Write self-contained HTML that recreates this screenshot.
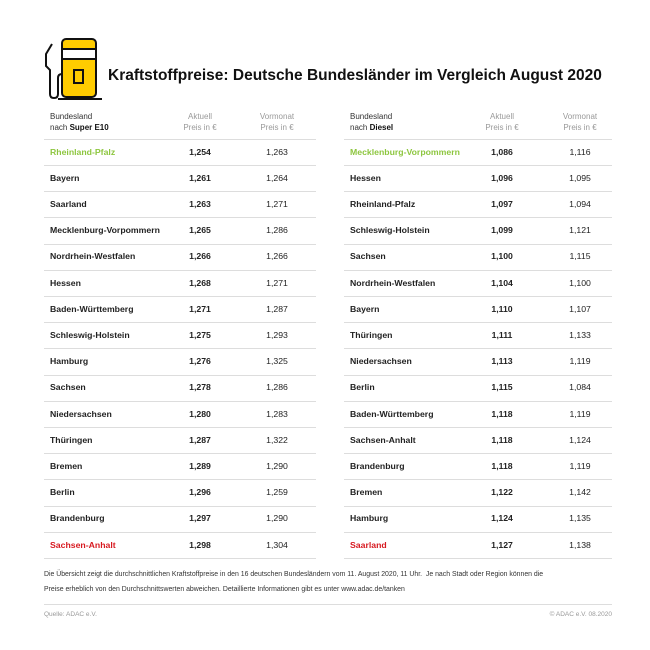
<!DOCTYPE html>
<html><head><meta charset="utf-8"><style>
body{margin:0;width:650px;height:650px;background:#fff;font-family:"Liberation Sans",sans-serif;position:relative;overflow:hidden;color:#222}
.a{position:absolute;white-space:nowrap}
.h{font-size:8px;color:#999;line-height:11px}
.n{font-size:8.7px;font-weight:bold}
.v{font-size:8.7px}
.ln{position:absolute;height:1px;background:#ddd}
</style></head><body>
<svg class="a" style="left:40px;top:36px" width="66" height="66" viewBox="0 0 66 66">
<rect x="22" y="3" width="34" height="58" rx="4" fill="#ffcc00" stroke="#111" stroke-width="2"/>
<rect x="23" y="13" width="32" height="10" fill="#fff"/>
<line x1="22" y1="13" x2="56" y2="13" stroke="#111" stroke-width="2"/>
<line x1="22" y1="23" x2="56" y2="23" stroke="#111" stroke-width="2"/>
<rect x="34" y="34" width="9" height="13" fill="none" stroke="#111" stroke-width="2"/>
<line x1="18" y1="63" x2="62" y2="63" stroke="#111" stroke-width="2"/>
<path d="M12 8 L6 18 L6 30 L10 34 L10 58 Q10 62 14 62 Q18 62 18 58 L18 42 Q18 38 22 38" fill="none" stroke="#111" stroke-width="2"/>
</svg>
<div class="a" style="left:108px;top:67px;font-size:15.5px;font-weight:bold;color:#111">Kraftstoffpreise: Deutsche Bundesländer im Vergleich August 2020</div>

<div class="a h" style="left:50px;top:111px;color:#333">Bundesland<br>nach <b style="color:#111">Super E10</b></div>
<div class="a h" style="left:180px;top:111px;width:40px;text-align:center">Aktuell<br>Preis in €</div>
<div class="a h" style="left:252px;top:111px;width:50px;text-align:center">Vormonat<br>Preis in €</div>
<div class="a h" style="left:350px;top:111px;color:#333">Bundesland<br>nach <b style="color:#111">Diesel</b></div>
<div class="a h" style="left:482px;top:111px;width:40px;text-align:center">Aktuell<br>Preis in €</div>
<div class="a h" style="left:555px;top:111px;width:50px;text-align:center">Vormonat<br>Preis in €</div>

<div id="rows"></div>

<div class="a" style="left:44px;top:567px;font-size:6.9px;line-height:15px;color:#333">Die Übersicht zeigt die durchschnittlichen Kraftstoffpreise in den 16 deutschen Bundesländern vom 11. August 2020, 11 Uhr.&nbsp; Je nach Stadt oder Region können die<br>Preise erheblich von den Durchschnittswerten abweichen. Detaillierte Informationen gibt es unter www.adac.de/tanken</div>
<div class="ln" style="left:44px;top:604px;width:568px"></div>
<div class="a" style="left:44px;top:611px;font-size:6.5px;color:#999">Quelle: ADAC e.V.</div>
<div class="a" style="left:540px;top:611px;width:72px;text-align:right;font-size:6.5px;color:#999">© ADAC e.V. 08.2020</div>
<script>
var L=[["Rheinland-Pfalz","1,254","1,263"],["Bayern","1,261","1,264"],["Saarland","1,263","1,271"],["Mecklenburg-Vorpommern","1,265","1,286"],["Nordrhein-Westfalen","1,266","1,266"],["Hessen","1,268","1,271"],["Baden-Württemberg","1,271","1,287"],["Schleswig-Holstein","1,275","1,293"],["Hamburg","1,276","1,325"],["Sachsen","1,278","1,286"],["Niedersachsen","1,280","1,283"],["Thüringen","1,287","1,322"],["Bremen","1,289","1,290"],["Berlin","1,296","1,259"],["Brandenburg","1,297","1,290"],["Sachsen-Anhalt","1,298","1,304"]];
var R=[["Mecklenburg-Vorpommern","1,086","1,116"],["Hessen","1,096","1,095"],["Rheinland-Pfalz","1,097","1,094"],["Schleswig-Holstein","1,099","1,121"],["Sachsen","1,100","1,115"],["Nordrhein-Westfalen","1,104","1,100"],["Bayern","1,110","1,107"],["Thüringen","1,111","1,133"],["Niedersachsen","1,113","1,119"],["Berlin","1,115","1,084"],["Baden-Württemberg","1,118","1,119"],["Sachsen-Anhalt","1,118","1,124"],["Brandenburg","1,118","1,119"],["Bremen","1,122","1,142"],["Hamburg","1,124","1,135"],["Saarland","1,127","1,138"]];
var h="";
function col(d,x0,w,ax,vx){
 h+='<div class="ln" style="left:'+x0+'px;top:139px;width:'+w+'px"></div>';
 for(var i=0;i<16;i++){var y=146.5+i*26.2;var c=i==0?"#8dc63f":(i==15?"#d71920":"#222");
 h+='<div class="a n" style="left:'+(x0+6)+'px;top:'+y+'px;color:'+c+'">'+d[i][0]+'</div>';
 h+='<div class="a n" style="left:'+ax+'px;top:'+y+'px;width:40px;text-align:center">'+d[i][1]+'</div>';
 h+='<div class="a v" style="left:'+vx+'px;top:'+y+'px;width:40px;text-align:center">'+d[i][2]+'</div>';
 h+='<div class="ln" style="left:'+x0+'px;top:'+Math.round(165+i*26.2)+'px;width:'+w+'px"></div>';}
}
col(L,44,272,180,257);col(R,344,268,482,560);
document.getElementById("rows").innerHTML=h;
</script>
</body></html>
